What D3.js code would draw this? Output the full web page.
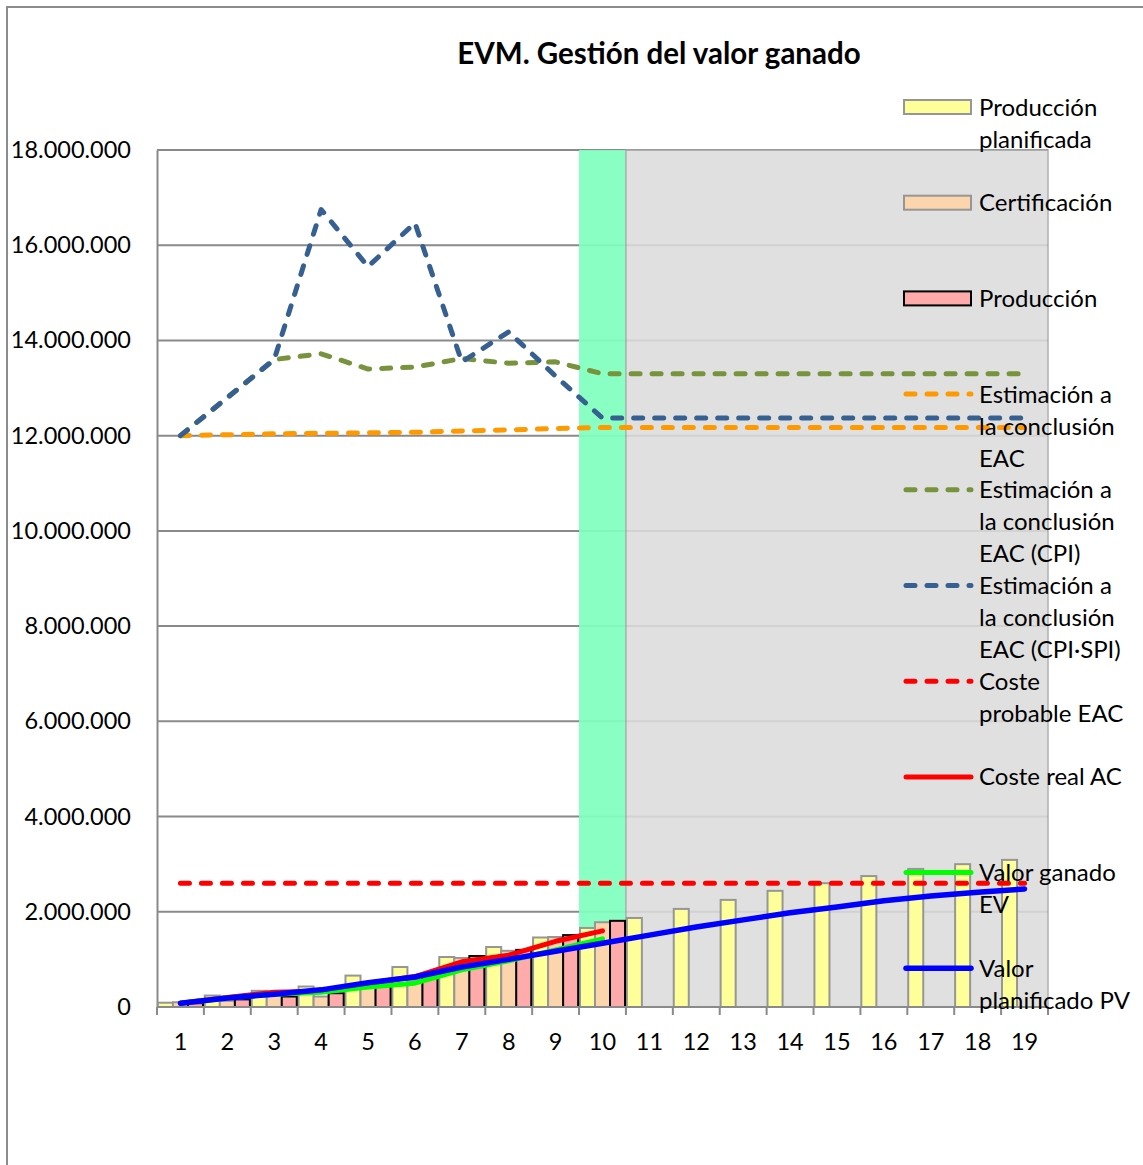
<!DOCTYPE html>
<html>
<head>
<meta charset="utf-8">
<script src="https://cdn.jsdelivr.net/npm/d3@7"></script>
<style>
  body { margin: 0; background: #fff; }
  text { font-family: Lato, "Open Sans", sans-serif; fill: #000; }
</style>
</head>
<body>
<div class="evm-chart"></div>
<script>
// categories (periods)
const periods = d3.range(1, 20).map(String)

// bar series
const prodPlan = [90000, 240000, 340000, 430000, 660000, 840000, 1050000, 1260000, 1460000, 1660000,
                  1870000, 2060000, 2250000, 2440000, 2600000, 2750000, 2900000, 3000000, 3090000]
const certif   = [100000, 130000, 320000, 220000, 470000, 570000, 1030000, 1180000, 1470000, 1780000]
const produc   = [80000, 160000, 220000, 290000, 440000, 690000, 1070000, 1200000, 1510000, 1810000]

// line series
const eac      = [12000000, 12020000, 12040000, 12050000, 12060000, 12070000, 12100000, 12120000, 12150000, 12170000,
                  12170000, 12170000, 12170000, 12170000, 12170000, 12170000, 12170000, 12170000, 12170000]
const eacCpi   = [12000000, 12800000, 13600000, 13720000, 13400000, 13440000, 13620000, 13520000, 13550000, 13300000,
                  13300000, 13300000, 13300000, 13300000, 13300000, 13300000, 13300000, 13300000, 13300000]
const eacCpiSpi= [12000000, 12800000, 13600000, 16750000, 15550000, 16470000, 13550000, 14180000, 13250000, 12370000,
                  12370000, 12370000, 12370000, 12370000, 12370000, 12370000, 12370000, 12370000, 12370000]
const costeProb= [2600000, 2600000, 2600000, 2600000, 2600000, 2600000, 2600000, 2600000, 2600000, 2600000,
                  2600000, 2600000, 2600000, 2600000, 2600000, 2600000, 2600000, 2600000, 2600000]
const ac       = [80000, 200000, 310000, 330000, 500000, 640000, 950000, 1090000, 1380000, 1600000]
const ev       = [80000, 190000, 270000, 310000, 420000, 500000, 780000, 970000, 1200000, 1430000]
const pv       = [80000, 190000, 270000, 360000, 510000, 630000, 840000, 1000000, 1170000, 1340000,
                  1510000, 1680000, 1830000, 1980000, 2100000, 2230000, 2330000, 2410000, 2480000]

const yTicks = d3.range(0, 18000001, 2000000)
const currentPeriod = "10"

// Svg initialization
const width = 1143
const height = 1165
const svg = d3.select(".evm-chart").append("svg")
    .attr("width", width)
    .attr("height", height)

const plot = {left: 157, right: 1048, top: 150, bottom: 1007}

// outer frame
svg.append("rect")
    .attr("x", 7).attr("y", 7)
    .attr("width", 1200).attr("height", 1200)
    .attr("fill", "none").attr("stroke", "#8c8c8c").attr("stroke-width", 2)

// title
svg.append("text")
    .attr("x", 659).attr("y", 64)
    .attr("text-anchor", "middle")
    .style("font-size", "29.5px").style("font-weight", "bold")
    .text("EVM. Gestión del valor ganado")

// scales
const x = d3.scaleBand().domain(periods).range([plot.left, plot.right])
const bw = x.bandwidth()
const xs = d3.scaleBand().domain(["plan", "cert", "prod"]).range([0, bw]).paddingInner(0).paddingOuter(0.06)
const y = d3.scaleLinear().domain([0, 18000000]).range([plot.bottom, plot.top])
const cx = d => x(d) + bw / 2

// gridlines
svg.append("g")
    .selectAll("line")
    .data(yTicks.filter(d => d > 0))
    .join("line")
    .attr("x1", plot.left).attr("x2", plot.right)
    .attr("y1", d => y(d)).attr("y2", d => y(d))
    .attr("stroke", "#8a8a8a").attr("stroke-width", 2)

// current period band and future area
svg.append("rect")
    .attr("x", x(currentPeriod)).attr("y", plot.top)
    .attr("width", bw).attr("height", plot.bottom - plot.top)
    .attr("fill", "#80ffc0").attr("opacity", 0.93)
svg.append("rect")
    .attr("x", x("11")).attr("y", plot.top)
    .attr("width", plot.right - x("11")).attr("height", plot.bottom - plot.top)
    .attr("fill", "#dcdcdc").attr("opacity", 0.88)
    .attr("stroke", "#a6a6a6").attr("stroke-width", 1.5)

// y axis
const fmt = d3.formatLocale({decimal: ",", thousands: ".", grouping: [3], currency: ["", ""]}).format(",")
const yAxis = svg.append("g")
    .attr("transform", `translate(${plot.left},0)`)
    .call(d3.axisLeft(y).tickValues(yTicks).tickFormat(fmt).tickSize(0).tickPadding(26))
yAxis.select(".domain").attr("stroke", "#8a8a8a").attr("stroke-width", 2)
yAxis.selectAll("text").style("font-size", "23.5px").style("font-family", "Lato")

// bars
const barSeries = [
    {key: "plan", values: prodPlan, fill: "#ffff99", stroke: "#969696"},
    {key: "cert", values: certif, fill: "#fdd5ad", stroke: "#969696"},
    {key: "prod", values: produc, fill: "#ffabab", stroke: "#000000"}
]
barSeries.forEach(s => {
    svg.append("g")
        .selectAll("rect")
        .data(s.values.map((v, i) => ({p: periods[i], v: v})))
        .join("rect")
        .attr("x", d => x(d.p) + xs(s.key))
        .attr("width", xs.bandwidth())
        .attr("y", d => y(d.v))
        .attr("height", d => plot.bottom - y(d.v))
        .attr("fill", s.fill)
        .attr("stroke", s.stroke).attr("stroke-width", 2)
})

// lines
const lineSeries = [
    {name: ["Estimación a", "la conclusión", "EAC"], values: eac, color: "#ff9900", dash: "9 12", w: 5},
    {name: ["Estimación a", "la conclusión", "EAC (CPI)"], values: eacCpi, color: "#77933c", dash: "9 12", w: 5},
    {name: ["Estimación a", "la conclusión", "EAC (CPI·SPI)"], values: eacCpiSpi, color: "#376092", dash: "9 12", w: 5},
    {name: ["Coste", "probable EAC"], values: costeProb, color: "#ff0000", dash: "9 12", w: 5},
    {name: ["Coste real AC"], values: ac, color: "#ff0000", dash: null, w: 5},
    {name: ["Valor ganado", "EV"], values: ev, color: "#00ff00", dash: null, w: 5},
    {name: ["Valor", "planificado PV"], values: pv, color: "#0000ff", dash: null, w: 5.5}
]
const lineGen = d3.line().x(d => cx(d.p)).y(d => y(d.v))
lineSeries.forEach(s => {
    svg.append("path")
        .datum(s.values.map((v, i) => ({p: periods[i], v: v})))
        .attr("d", lineGen)
        .attr("fill", "none")
        .attr("stroke", s.color)
        .attr("stroke-width", s.w)
        .attr("stroke-linecap", "round")
        .attr("stroke-linejoin", "round")
        .attr("stroke-dasharray", s.dash)
})

// x axis
svg.append("line")
    .attr("x1", plot.left).attr("x2", plot.right)
    .attr("y1", plot.bottom).attr("y2", plot.bottom)
    .attr("stroke", "#8a8a8a").attr("stroke-width", 2)
svg.append("g")
    .selectAll("line")
    .data(periods.map(p => x(p)).concat([plot.right]))
    .join("line")
    .attr("x1", d => d).attr("x2", d => d)
    .attr("y1", plot.bottom).attr("y2", plot.bottom + 8)
    .attr("stroke", "#8a8a8a").attr("stroke-width", 2)
svg.append("g")
    .selectAll("text")
    .data(periods)
    .join("text")
    .attr("x", d => cx(d))
    .attr("y", 1050)
    .attr("text-anchor", "middle")
    .style("font-size", "23.5px")
    .text(d => d)

// legend
const legendItems = [
    {name: ["Producción", "planificada"], type: "bar", fill: "#ffff99", stroke: "#969696"},
    {name: ["Certificación"], type: "bar", fill: "#fdd5ad", stroke: "#969696"},
    {name: ["Producción"], type: "bar", fill: "#ffabab", stroke: "#000000"}
].concat(lineSeries.map(s => ({name: s.name, type: "line", color: s.color, dash: s.dash, w: s.w})))

const legend = svg.append("g")
legendItems.forEach((item, i) => {
    const yc = 107 + i * 95.7
    if (item.type === "bar") {
        legend.append("rect")
            .attr("x", 904).attr("y", yc - 7)
            .attr("width", 67).attr("height", 14)
            .attr("fill", item.fill).attr("stroke", item.stroke).attr("stroke-width", 2)
    } else {
        legend.append("line")
            .attr("x1", 906).attr("x2", 971)
            .attr("y1", yc).attr("y2", yc)
            .attr("stroke", item.color).attr("stroke-width", item.w)
            .attr("stroke-linecap", "round")
            .attr("stroke-dasharray", item.dash)
    }
    const t = legend.append("text")
        .attr("x", 979).attr("y", yc + 8.5)
        .style("font-size", "24px")
    item.name.forEach((ln, j) => {
        t.append("tspan").attr("x", 979).attr("dy", j === 0 ? 0 : 32).text(ln)
    })
})
</script>
</body>
</html>
